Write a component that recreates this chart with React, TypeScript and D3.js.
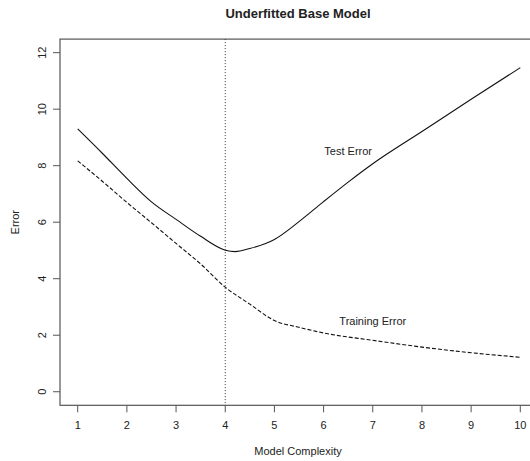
import React from "react";
import * as d3 from "d3";

const complexity = [1, 1.5, 2, 2.5, 3, 3.5, 4, 4.2, 4.5, 5, 5.5, 6, 6.5, 7, 8, 9, 10];
const testError = [9.3, 8.44, 7.55, 6.72, 6.1, 5.5, 5.01, 4.96, 5.07, 5.39, 6.02, 6.73, 7.42, 8.07, 9.21, 10.35, 11.47];
const trainComplexity = [1, 1.5, 2, 2.5, 3, 3.5, 4, 4.5, 5, 5.5, 6, 7, 8, 9, 10];
const trainingError = [8.17, 7.45, 6.7, 5.98, 5.25, 4.52, 3.7, 3.1, 2.52, 2.28, 2.08, 1.82, 1.58, 1.38, 1.22];
const xTicks = [1, 2, 3, 4, 5, 6, 7, 8, 9, 10];
const yTicks = [0, 2, 4, 6, 8, 10, 12];
const vLineAt = 4;
const labels = [
  { x: 6.5, y: 8.5, text: "Test Error" },
  { x: 7, y: 2.5, text: "Training Error" },
];

const W = 530;
const H = 461;
const font = "'Liberation Sans', Arial, Helvetica, sans-serif";

export default function App() {
  const x = d3.scaleLinear().domain([0.64, 10.36]).range([60, 538]);
  const y = d3.scaleLinear().domain([-0.48, 12.48]).range([405.3, 39.1]);

  const testLine = d3
    .line<number>()
    .x((_, i) => x(complexity[i]))
    .y((d) => y(d))
    .curve(d3.curveMonotoneX)(testError) as string;
  const trainLine = d3
    .line<number>()
    .x((_, i) => x(trainComplexity[i]))
    .y((d) => y(d))
    .curve(d3.curveMonotoneX)(trainingError) as string;

  const [x0, x1] = x.range();
  const [yb, yt] = y.range();
  const boxColor = "#555";
  const textColor = "#222";

  return (
    <svg
      width={W}
      height={H}
      style={{ position: "absolute", left: 0, top: 0, background: "#fff" }}
      fontFamily={font}
    >
      <rect x={0} y={0} width={W} height={H} fill="#fff" />
      <text x={298} y={18} textAnchor="middle" fontWeight="bold" fontSize={13} fill={textColor}>
        Underfitted Base Model
      </text>
      {/* box */}
      <rect x={x0} y={yt} width={x1 - x0} height={yb - yt} fill="none" stroke={boxColor} strokeWidth={1.2} />
      {/* x axis */}
      {xTicks.map((t) => (
        <g key={"x" + t}>
          <line x1={x(t)} x2={x(t)} y1={yb} y2={yb + 7} stroke={boxColor} />
          <text x={x(t)} y={429} textAnchor="middle" fontSize={11} fill={textColor}>
            {t}
          </text>
        </g>
      ))}
      <text x={298} y={455} textAnchor="middle" fontSize={11} fill={textColor}>
        Model Complexity
      </text>
      {/* y axis */}
      {yTicks.map((t) => (
        <g key={"y" + t}>
          <line x1={x0 - 7} x2={x0} y1={y(t)} y2={y(t)} stroke={boxColor} />
          <text
            transform={`translate(46,${y(t)}) rotate(-90)`}
            textAnchor="middle"
            fontSize={11}
            fill={textColor}
          >
            {t}
          </text>
        </g>
      ))}
      <text transform={`translate(19,${(yb + yt) / 2}) rotate(-90)`} textAnchor="middle" fontSize={11} fill={textColor}>
        Error
      </text>
      {/* vertical dotted line */}
      <line x1={x(vLineAt)} x2={x(vLineAt)} y1={yt} y2={yb} stroke="#333" strokeWidth={1} strokeDasharray="1,2" />
      <path d={testLine} fill="none" stroke="#111" strokeWidth={1.1} />
      <path d={trainLine} fill="none" stroke="#111" strokeWidth={1.1} strokeDasharray="4,2" />
      {labels.map((l) => (
        <text key={l.text} x={x(l.x)} y={y(l.y)} dy="0.35em" textAnchor="middle" fontSize={11} fill={textColor}>
          {l.text}
        </text>
      ))}
    </svg>
  );
}
